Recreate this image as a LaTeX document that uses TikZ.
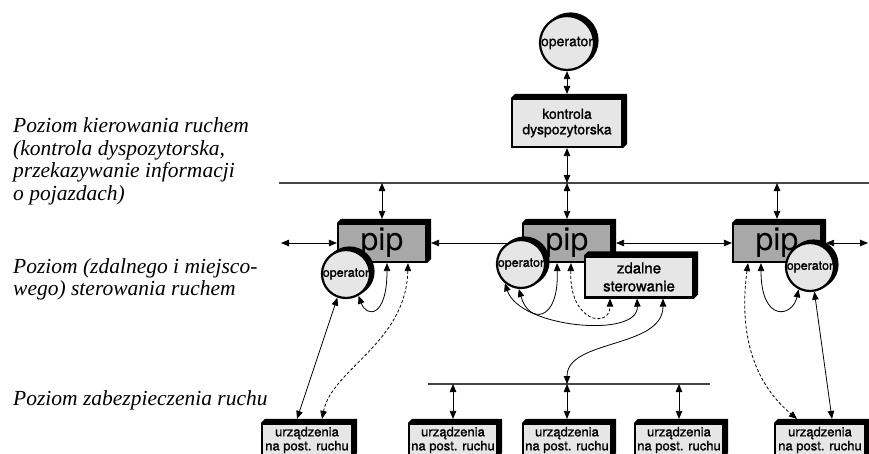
\documentclass[tikz,border=0pt]{standalone}
\usepackage{fontspec}
\setmainfont{Liberation Serif}
\setsansfont{TeX Gyre Heros}
\newfontfamily\boxfont[FakeBold=1.2]{TeX Gyre Heros}
\usetikzlibrary{arrows.meta,shadows}
\pgfdeclarelayer{background}
\pgfsetlayers{background,main}
\definecolor{facegray}{RGB}{230,230,230}
\definecolor{pipgray}{RGB}{168,168,168}
\definecolor{busgray}{RGB}{70,70,70}
\newcommand{\mkextr}[1]{\fill[black] (#1.north west) -- ([shift={(4pt,4pt)}]#1.north west) -- ([shift={(4pt,4pt)}]#1.north east) -- ([shift={(4pt,4pt)}]#1.south east) -- (#1.south east) -- (#1.north east) -- cycle;}
\begin{document}
\begin{tikzpicture}[x=1pt,y=-1pt,
  box/.style={draw=black, line width=2.2pt, fill=facegray, inner sep=0pt, align=center, font=\boxfont},
  pipbox/.style={box, fill=pipgray, minimum width=88pt, minimum height=38pt, font=\sffamily\fontsize{32}{32}\selectfont},
  opnode/.style={circle, draw=black, line width=2.2pt, fill=facegray, inner sep=0pt, minimum size=48pt,
     font=\boxfont\fontsize{12.5}{13}\selectfont,
     copy shadow={shadow xshift=3.5pt, shadow yshift=2.5pt, fill=black, draw=black, line width=2.2pt}},
  conn/.style={line width=0.8pt, {Triangle[length=8pt,width=6.5pt]}-{Triangle[length=8pt,width=6.5pt]}},
  dconn/.style={conn, dash pattern=on 3pt off 2pt},
  bus/.style={line width=1.3pt, draw=busgray},
  lvl/.style={anchor=base west, inner sep=0pt, font=\itshape\fontsize{21.5}{23}\selectfont},
  dev/.style={box, minimum width=90pt, minimum height=32pt, font=\boxfont\fontsize{13}{14}\selectfont}
]
\path[use as bounding box, clip] (0,0) rectangle (869,453);

% level labels
\node[lvl] (t1) at (13,132) {Poziom kierowania ruchem};
\node[lvl] (t2) at (13,155) {(kontrola dyspozytorska,};
\node[lvl] (t3) at (13,177) {przekazywanie informacji};
\node[lvl] (t4) at (13,200) {o pojazdach)};
\node[lvl] (t5) at (13,273) {Poziom (zdalnego i miejsco-};
\node[lvl] (t6) at (13,295) {wego) sterowania ruchem};
\node[lvl] (t7) at (13,405) {Poziom zabezpieczenia ruchu};

% boxes
\node[box, minimum width=110pt, minimum height=48pt, font=\boxfont\fontsize{14}{15.5}\selectfont] (kontrola) at (567,123) {kontrola\\dyspozytorska};
\mkextr{kontrola}
\node[pipbox] (lpip) at (382,243) {pip};
\mkextr{lpip}
\node[pipbox] (cpip) at (567,243) {pip};
\mkextr{cpip}
\node[pipbox] (rpip) at (777,243) {pip};
\mkextr{rpip}
\node[box, minimum width=108pt, minimum height=41pt, font=\boxfont\fontsize{15}{18}\selectfont] (zdalne) at (639,277) {zdalne\\sterowanie};
\mkextr{zdalne}

\node[dev] (b1) at (307,440) {urządzenia\\na post. ruchu};
\mkextr{b1}
\node[dev, minimum width=88pt] (b2) at (453,440) {urządzenia\\na post. ruchu};
\mkextr{b2}
\node[dev, minimum width=88pt] (b3) at (567,440) {urządzenia\\na post. ruchu};
\mkextr{b3}
\node[dev, minimum width=88pt] (b4) at (679,440) {urządzenia\\na post. ruchu};
\mkextr{b4}
\node[dev] (b5) at (820,440) {urządzenia\\na post. ruchu};
\mkextr{b5}

% operators
\node[opnode, minimum size=54pt, font=\boxfont\fontsize{14}{15}\selectfont] (opTop) at (567,43) {operator};
\node[opnode] (lop) at (346,274) {operator};
\node[opnode] (cop) at (521,264) {operator};
\node[opnode] (rop) at (810,267) {operator};

% bus coordinates
\coordinate (busL) at (279,183);
\coordinate (busR) at (869,183);
\coordinate (hl) at (281,243);
\coordinate (hr) at (868,243);
\coordinate (bbL) at (428,384);
\coordinate (bbR) at (710,384);

\begin{pgfonlayer}{background}
\draw[bus] (busL) -- (busR);
\draw[bus] (bbL) -- (bbR);

\draw[conn] (opTop.south) -- ([yshift=4pt]kontrola.north);
\draw[conn] (kontrola.south) -- (kontrola.south |- busL);
\draw[conn] (cpip.north |- busL) -- ([yshift=4pt]cpip.north);
\draw[conn] (lpip.north |- busL) -- ([yshift=4pt]lpip.north);
\draw[conn] (rpip.north |- busL) -- ([yshift=4pt]rpip.north);

\draw[conn] (hl) -- (lpip.west);
\draw[conn] ([xshift=4pt]lpip.east) -- (cpip.west);
\draw[conn] ([xshift=4pt]cpip.east) -- (rpip.west);
\draw[conn] ([xshift=4pt]rpip.east) -- (hr);

\draw[conn] (b2.north |- bbL) -- ([yshift=4pt]b2.north);
\draw[conn] (b3.north |- bbL) -- ([yshift=4pt]b3.north);
\draw[conn] (b4.north |- bbL) -- ([yshift=4pt]b4.north);

% left group
\draw[conn] ([xshift=5pt]lpip.south) .. controls +(0,55) and +(8,22) .. (lop.-60);
\draw[dconn] ([xshift=26pt]lpip.south) .. controls +(-2,80) and +(10,-50) .. ([shift={(15pt,4pt)}]b1.north);
\draw[conn] (lop.-110) -- ([shift={(-10pt,4pt)}]b1.north);

% centre group
\draw[conn] (cop.-130) .. controls +(15,45) and +(2,40) .. ([xshift=-2pt]zdalne.south);
\draw[conn] (cop.-95) .. controls +(10,35) and +(2,60) .. ([xshift=-10pt]cpip.south);
\draw[dconn] ([xshift=4pt]cpip.south) .. controls +(-2,60) and +(0,30) .. ([xshift=-29pt]zdalne.south);
\draw[conn] ([xshift=24pt]zdalne.south) .. controls +(0,50) and +(0,-45) .. (b3.north |- bbL);

% right group
\draw[conn] ([xshift=-16pt]rpip.south) .. controls +(0,60) and +(-6,28) .. (rop.-117);
\draw[dconn] ([xshift=-29pt]rpip.south) .. controls +(-12,90) and +(-30,-25) .. ([shift={(-23pt,4pt)}]b5.north);
\draw[conn] (rop.-80) -- ([shift={(12pt,4pt)}]b5.north);
\end{pgfonlayer}
\end{tikzpicture}
\end{document}
